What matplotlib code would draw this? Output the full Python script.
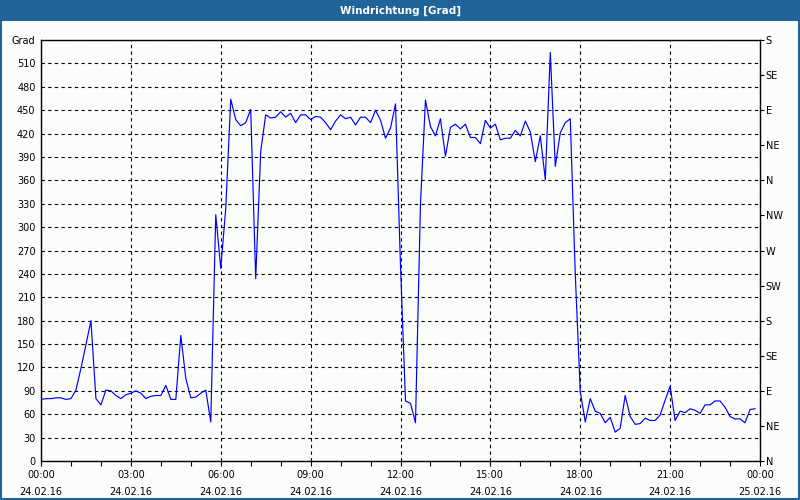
# -*- coding: utf-8 -*-
# Windrichtung [Grad] - Tagesverlauf 24.02.16

import numpy as np
import matplotlib
matplotlib.use("Agg")
import matplotlib.pyplot as plt
from matplotlib.patches import Rectangle
from matplotlib.ticker import MultipleLocator

# ------------------------------------------------------------
# Data (10-minute samples, 00:00 .. 23:50)
# ------------------------------------------------------------
interval_min = 10
wind_dir = [
    79, 80, 80, 81, 81, 79, 80, 91, 119, 149,
    180, 80, 72, 91, 90, 84, 80, 85, 87, 90,
    87, 80, 83, 84, 84, 97, 79, 79, 161, 106,
    81, 82, 87, 91, 50, 316, 247, 324, 464, 438,
    430, 434, 451, 234, 397, 444, 440, 441, 448, 441,
    446, 434, 444, 444, 438, 442, 441, 434, 425, 436,
    444, 439, 441, 431, 441, 441, 434, 450, 437, 414,
    427, 458, 250, 77, 74, 49, 330, 463, 429, 417,
    439, 391, 428, 432, 426, 432, 415, 415, 407, 437,
    427, 432, 412, 414, 414, 424, 417, 436, 422, 384,
    417, 361, 524, 378, 421, 434, 439, 240, 89, 50,
    80, 64, 61, 49, 56, 37, 42, 84, 57, 47,
    48, 55, 52, 52, 59, 78, 96, 52, 64, 62,
    67, 65, 61, 72, 72, 77, 77, 69, 57, 54,
    54, 49, 66, 67,
]

x_tick_hours = [0, 3, 6, 9, 12, 15, 18, 21, 24]
x_tick_labels = ["00:00\n24.02.16", "03:00\n24.02.16", "06:00\n24.02.16",
                 "09:00\n24.02.16", "12:00\n24.02.16", "15:00\n24.02.16",
                 "18:00\n24.02.16", "21:00\n24.02.16", "00:00\n25.02.16"]

y_ticks = list(range(0, 541, 30))
y_tick_labels = [str(v) for v in range(0, 511, 30)] + ["Grad"]

compass_deg = list(range(0, 541, 45))
compass_labels = ["N", "NE", "E", "SE", "S", "SW", "W", "NW",
                  "N", "NE", "E", "SE", "S"]

# ------------------------------------------------------------
# Figure
# ------------------------------------------------------------
W, H = 800, 500
bar_blue = "#1f6398"
bg = "#fbfdfb"

plt.rcParams["font.family"] = ["DejaVu Sans"]
fig = plt.figure(figsize=(W / 100, H / 100), dpi=100, facecolor=bg)

# title bar + frame
fig.add_artist(Rectangle((0, 1 - 21 / H), 1, 21 / H, transform=fig.transFigure,
                         facecolor=bar_blue, edgecolor="none", zorder=0))
fig.add_artist(Rectangle((1 / W, 1 / H), 1 - 2 / W, 1 - 2 / H,
                         transform=fig.transFigure, facecolor="none",
                         edgecolor=bar_blue, linewidth=1.5, zorder=0))
fig.text(0.5, 1 - 10.5 / H, "Windrichtung [Grad]", color="white",
         fontsize=7.5, fontweight="bold", ha="center", va="center")

left, right, top, bottom = 41, 760, 40, 461
ax = fig.add_axes([left / W, 1 - bottom / H, (right - left) / W, (bottom - top) / H])
ax.set_facecolor(bg)

hours = np.arange(len(wind_dir)) * interval_min / 60.0
ax.plot(hours, wind_dir, color="#0000ff", linewidth=0.85, zorder=3)

ax.set_xlim(0, 24)
ax.set_ylim(0, 540)

ax.set_xticks(x_tick_hours)
ax.set_xticklabels(x_tick_labels, fontsize=7, linespacing=1.9)
ax.xaxis.set_minor_locator(MultipleLocator(1))
ax.tick_params(axis="x", which="both", direction="out", length=3.5,
               width=0.8, pad=3, color="black")

ax.set_yticks(y_ticks)
ax.set_yticklabels(y_tick_labels, fontsize=7)
ax.tick_params(axis="y", which="both", length=0, pad=4)

# grid
ax.grid(True, which="major", color="black", linestyle=(0, (3, 3)), linewidth=0.8)
ax.set_axisbelow(True)

for sp in ax.spines.values():
    sp.set_color("black")
    sp.set_linewidth(1.0)

# right compass axis
ax2 = ax.twinx()
ax2.set_ylim(0, 540)
ax2.set_yticks(compass_deg)
ax2.set_yticklabels(compass_labels, fontsize=7)
ax2.tick_params(axis="y", direction="out", length=3, width=0.8, pad=1)
for sp in ax2.spines.values():
    sp.set_visible(False)

fig.savefig("out.png", dpi=100, facecolor=bg)
